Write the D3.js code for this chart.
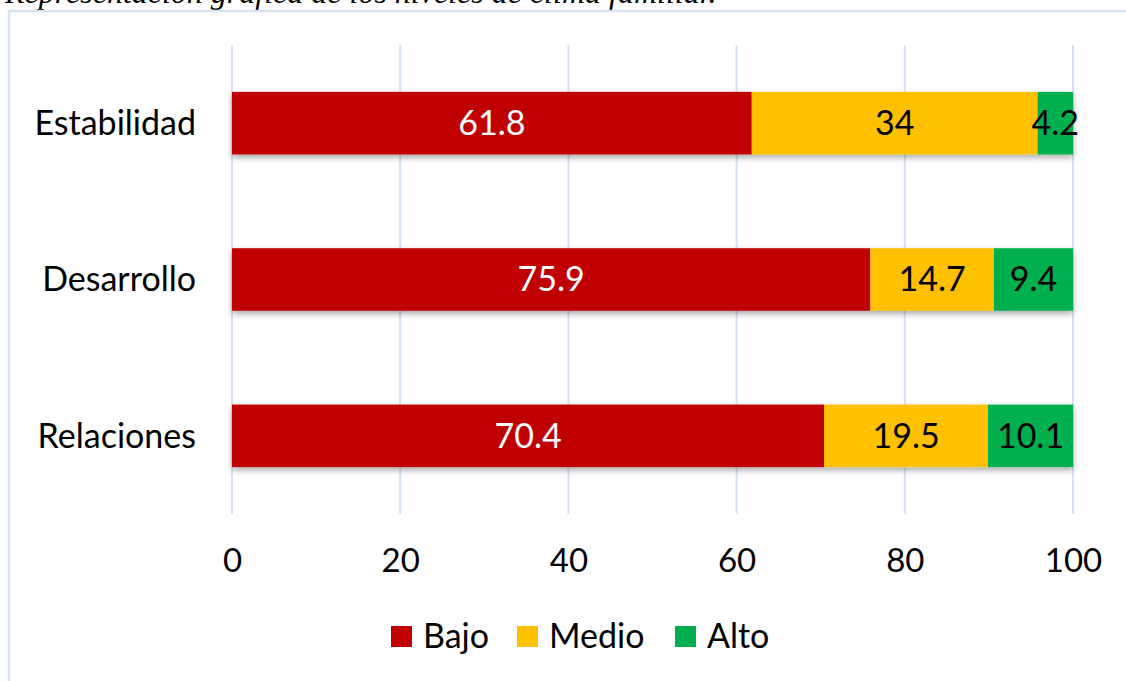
<!DOCTYPE html>
<html><head><meta charset="utf-8">
<script src="https://cdn.jsdelivr.net/npm/d3@7"></script>
<style>html,body{margin:0;padding:0;background:#fff;overflow:hidden}</style>
</head><body>
<script>
const categories = ["Estabilidad", "Desarrollo", "Relaciones"];
const seriesNames = ["Bajo", "Medio", "Alto"];
const bajo = [61.8, 75.9, 70.4];
const medio = [34, 14.7, 19.5];
const alto = [4.2, 9.4, 10.1];
const xTicks = [0, 20, 40, 60, 80, 100];
const colors = ["#C00000", "#FFC000", "#00B050"];
const labelColors = ["#ffffff", "#000000", "#000000"];
const title = "Representación gráfica de los niveles de clima familiar.";

const W = 1126, H = 681;
const svg = d3.select("body").append("svg").attr("width", W).attr("height", H);

const defs = svg.append("defs");
const f = defs.append("filter").attr("id", "sh").attr("x", "-5%").attr("y", "-20%").attr("width", "110%").attr("height", "160%");
f.append("feDropShadow").attr("dx", 0).attr("dy", 3).attr("stdDeviation", 3).attr("flood-color", "#000").attr("flood-opacity", 0.35);

// title (partly cut off at top, as in the reference)
svg.append("text").attr("x", 5).attr("y", 3)
  .attr("font-family", "Liberation Serif").attr("font-style", "italic")
  .attr("font-size", 32).attr("fill", "#000").text(title);

// border
svg.append("rect").attr("x", 9).attr("y", 11).attr("width", 1130).attr("height", 700)
  .attr("fill", "none").attr("stroke", "#D6E2F2").attr("stroke-width", 2.5);

const x = d3.scaleLinear().domain([0, 100]).range([232, 1073]);
const y = d3.scaleBand().domain(categories).range([45, 514]).paddingInner(0.6).paddingOuter(0.3);

// gridlines
svg.append("g").selectAll("line").data(xTicks).join("line")
  .attr("x1", d => x(d)).attr("x2", d => x(d))
  .attr("y1", 45).attr("y2", 514)
  .attr("stroke", "#D6E2F2").attr("stroke-width", 2);

const font = "Lato, 'Open Sans', sans-serif";
const fs = 34;

const rows = categories.map((c, i) => ({c, vals: [bajo[i], medio[i], alto[i]]}));
const stackData = [];
rows.forEach(r => {
  let acc = 0;
  r.vals.forEach((v, k) => { stackData.push({c: r.c, k, x0: acc, x1: acc + v, v}); acc += v; });
});

const bars = svg.append("g").attr("filter", "url(#sh)");
bars.selectAll("rect").data(stackData).join("rect")
  .attr("x", d => x(d.x0)).attr("width", d => x(d.x1) - x(d.x0))
  .attr("y", d => y(d.c)).attr("height", y.bandwidth())
  .attr("fill", d => colors[d.k]);

svg.append("g").selectAll("text").data(stackData).join("text")
  .attr("x", d => (x(d.x0) + x(d.x1)) / 2)
  .attr("y", d => y(d.c) + y.bandwidth() / 2)
  .attr("dy", "0.35em").attr("text-anchor", "middle")
  .attr("font-family", font).attr("font-size", fs)
  .attr("fill", d => labelColors[d.k]).text(d => d.v);

// category axis labels
svg.append("g").selectAll("text").data(categories).join("text")
  .attr("x", 196).attr("y", d => y(d) + y.bandwidth() / 2)
  .attr("dy", "0.35em").attr("text-anchor", "end")
  .attr("font-family", font).attr("font-size", fs).attr("fill", "#000").text(d => d);

// x axis
const xAxis = svg.append("g").attr("transform", "translate(0,514)")
  .call(d3.axisBottom(x).tickValues(xTicks).tickSize(0).tickPadding(35));
xAxis.select(".domain").remove();
xAxis.selectAll("text").attr("font-family", font).attr("font-size", 33).attr("fill", "#000");

// legend
const legX = [391, 517, 675];
const leg = svg.append("g").selectAll("g").data(seriesNames).join("g")
  .attr("transform", (d, i) => `translate(${legX[i]},626)`);
leg.append("rect").attr("width", 21).attr("height", 21).attr("fill", (d, i) => colors[i]);
leg.append("text").attr("x", 32).attr("y", 10.5).attr("dy", "0.35em")
  .attr("font-family", font).attr("font-size", fs).attr("fill", "#000").text(d => d);
</script>
</body></html>
